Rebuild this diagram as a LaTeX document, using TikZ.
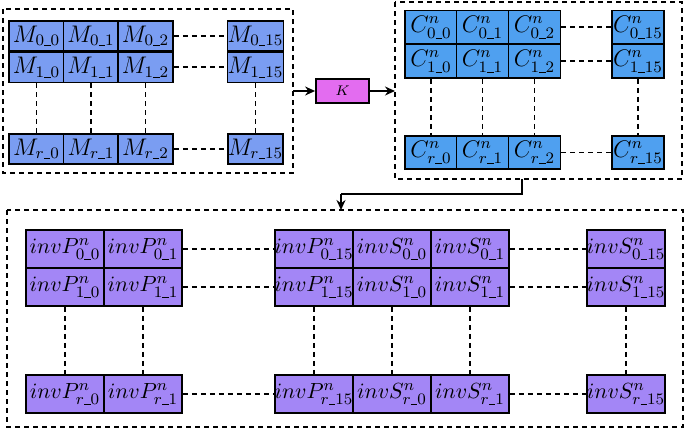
\documentclass[tikz,border=0pt]{standalone}
\usetikzlibrary{arrows.meta}
\definecolor{mblue}{HTML}{7A9DF2}
\definecolor{cblue}{HTML}{4FA0F0}
\definecolor{ppurple}{HTML}{A386F6}
\definecolor{kpink}{HTML}{E36CF0}
\newcommand\us{\rule[-0.2pt]{3.3pt}{0.45pt}}
\begin{document}
\begin{tikzpicture}[x=0.5pt,y=-0.5pt,
  cell/.style={draw=black,line width=0.9pt,inner sep=0pt,anchor=center,font=\fontsize{11.5}{13}\selectfont},
  mcell/.style={cell,fill=mblue,minimum width=27.5pt,minimum height=15.25pt},
  ccell/.style={cell,fill=cblue,minimum width=26pt,minimum height=16.75pt},
  pcell/.style={cell,fill=ppurple,minimum width=39pt,minimum height=19pt},
  ptext/.style={inner sep=0pt,font=\fontsize{11}{13}\selectfont},
  link/.style={line width=0.85pt,dash pattern=on 2.5pt off 2pt},
  frame/.style={line width=0.85pt,dash pattern=on 2.5pt off 2pt},
  arr/.style={line width=0.75pt,-{Stealth[length=5pt,width=4.5pt]}}]
\useasboundingbox (0,0) rectangle (685,429);
% frames
\draw[frame] (3,9) rectangle (293,173);
\draw[frame] (395,2) rectangle (682,179);
\draw[frame] (7,210) rectangle (683,427);
\coordinate (b1e) at (293,91);
\coordinate (b2w) at (395,91);
\coordinate (b2s) at (522,179);
\coordinate (b2t) at (522,194);
\coordinate (b3t) at (341,194);
\coordinate (b3n) at (341,210);
% M cells
\foreach \x/\c in {36.5/0,91/1,145.5/2,255.5/15}{
  \node[mcell] (m0\c) at (\x,36) {$M_{0\us\c}$};
  \node[mcell] (m1\c) at (\x,67.25) {$M_{1\us\c}$};
  \node[mcell] (mr\c) at (\x,149) {$M_{r\us\c}$};
  \draw[link] (m1\c.south) -- (mr\c.north);
}
\draw[link] (m02.east) -- (m015.west);
\draw[link] (m12.east) -- (m115.west);
\draw[link] (mr2.east) -- (mr15.west);
% K
\node[draw=black,line width=0.9pt,fill=kpink,minimum width=26.5pt,minimum height=12pt,inner sep=0pt] (k) at (342.5,91) {\scriptsize$K$};
\draw[arr] (b1e) -- (k.west);
\draw[arr] (k.east) -- (b2w);
% C cells
\foreach \x/\c in {431/0,482.5/1,534.5/2,638/15}{
  \node[ccell] (c0\c) at (\x,27.25) {$C^{n}_{0\us\c}$};
  \node[ccell] (c1\c) at (\x,61.25) {$C^{n}_{1\us\c}$};
  \node[ccell] (cr\c) at (\x,152.5) {$C^{n}_{r\us\c}$};
  \draw[link] (c1\c.south) -- (cr\c.north);
}
\draw[link] (c02.east) -- (c015.west);
\draw[link] (c12.east) -- (c115.west);
\draw[link] (cr2.east) -- (cr15.west);
% connector to bottom
\draw[line width=0.75pt] (b2s) -- (b2t) -- (b3t);
\draw[arr] (b3t) -- (b3n);
% invP / invS cells
\foreach \x/\n in {65/p0,143/p1,314/p15,392/s0,470/s1,626/s15}{
  \node[pcell] (a\n) at (\x,249) {};
  \node[pcell] (b\n) at (\x,287) {};
  \node[pcell] (r\n) at (\x,394) {};
  \draw[link] (b\n.south) -- (r\n.north);
}
\node[ptext] at (ap0) {$invP^{n}_{0\us0}$};
\node[ptext] at (ap1) {$invP^{n}_{0\us1}$};
\node[ptext] at (ap15) {$invP^{n}_{0\us15}$};
\node[ptext] at (as0) {$invS^{n}_{0\us0}$};
\node[ptext] at (as1) {$invS^{n}_{0\us1}$};
\node[ptext] at (as15) {$invS^{n}_{0\us15}$};
\node[ptext] at (bp0) {$invP^{n}_{1\us0}$};
\node[ptext] at (bp1) {$invP^{n}_{1\us1}$};
\node[ptext] at (bp15) {$invP^{n}_{1\us15}$};
\node[ptext] at (bs0) {$invS^{n}_{1\us0}$};
\node[ptext] at (bs1) {$invS^{n}_{1\us1}$};
\node[ptext] at (bs15) {$invS^{n}_{1\us15}$};
\node[ptext] at (rp0) {$invP^{n}_{r\us0}$};
\node[ptext] at (rp1) {$invP^{n}_{r\us1}$};
\node[ptext] at (rp15) {$invP^{n}_{r\us15}$};
\node[ptext] at (rs0) {$invS^{n}_{r\us0}$};
\node[ptext] at (rs1) {$invS^{n}_{r\us1}$};
\node[ptext] at (rs15) {$invS^{n}_{r\us15}$};
\draw[link] (ap1.east) -- (ap15.west);
\draw[link] (bp1.east) -- (bp15.west);
\draw[link] (rp1.east) -- (rp15.west);
\draw[link] (as1.east) -- (as15.west);
\draw[link] (bs1.east) -- (bs15.west);
\draw[link] (rs1.east) -- (rs15.west);
\end{tikzpicture}
\end{document}
